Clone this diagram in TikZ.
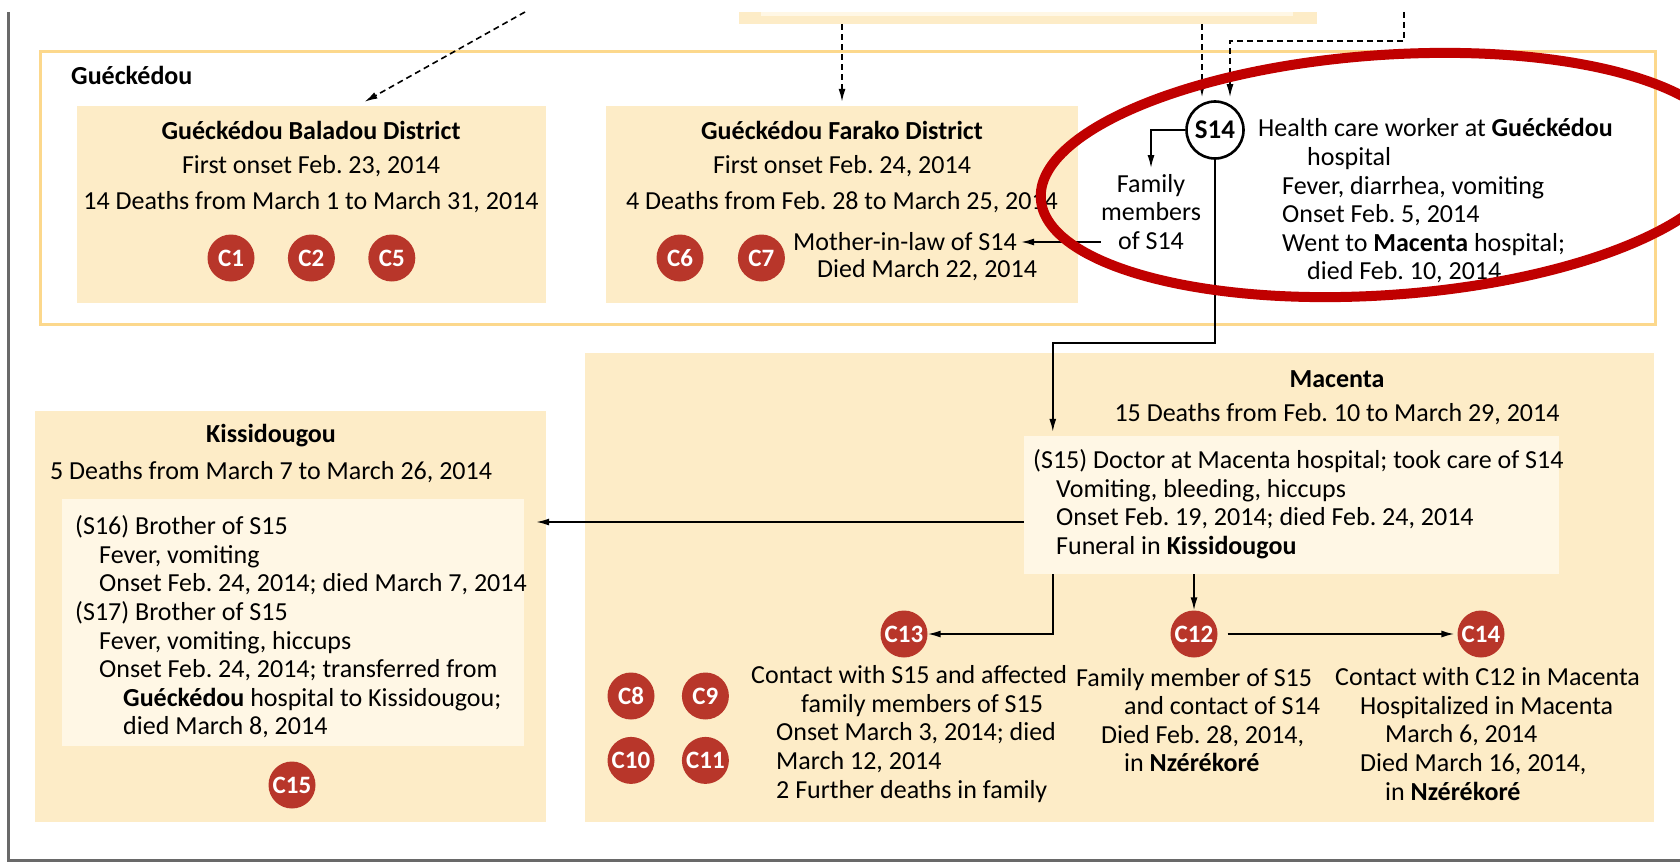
\documentclass[tikz,border=0pt]{standalone}
\usepackage{fontspec}
\setmainfont{Carlito}
\usetikzlibrary{positioning,fit,arrows.meta,shapes.geometric}

\definecolor{boxfill}{RGB}{253,236,199}
\definecolor{innerfill}{RGB}{255,247,229}
\definecolor{frameorange}{RGB}{252,216,140}
\definecolor{casered}{RGB}{184,54,42}
\definecolor{markred}{RGB}{192,0,0}
\definecolor{framegray}{RGB}{105,105,105}

\begin{document}
\frenchspacing
\begin{tikzpicture}[
    x=1pt, y=-1pt,
    every node/.style={font=\fontsize{26}{28.6}\selectfont, inner sep=0pt},
    >={Latex[length=13pt,width=7pt]},
    region/.style={draw=frameorange, line width=3pt, fill=white, inner sep=0pt},
    district/.style={fill=boxfill, inner sep=0pt},
    detail/.style={fill=innerfill, inner sep=0pt},
    heading/.style={font=\fontsize{26}{28.6}\selectfont\bfseries},
    case/.style={circle, fill=casered, text=white, minimum size=47pt, inner sep=0pt, font=\fontsize{25}{25}\selectfont\bfseries},
    note/.style={align=left, anchor=west},
    link/.style={->, line width=1.6pt},
    source/.style={->, line width=1.6pt, dash pattern=on 6pt off 4pt}
    ]

   \useasboundingbox (0,0) rectangle (1680,864);
   \draw[framegray, line width=3pt] (8,12) -- (8,860) -- (1700,860);

   % box above, cut by the frame
   \node(topbox) [district, fit={(739,12) (1317,24)}] {};
   \node(topinner) [detail, fit={(761,12) (1293,16)}] {};

   % Gueckedou
   \node(gueck) [region, fit={(40,52) (1655,324)}] {};
   \node(gueckLabel) [heading, anchor=west] at (71,75) {Guéckédou};

   \node(balbox) [district, fit={(77,106) (546,303)}] {};
   \node(balTitle) [heading] at (311,130) {Guéckédou Baladou District};
   \node(balOnset) at (311,166) {First onset Feb. 23, 2014};
   \node(balDeaths) at (311,202) {14 Deaths from March 1 to March 31, 2014};
   \node(c1) [case] at (231,258) {C1};
   \node(c2) [case, right=33pt of c1] {C2};
   \node(c5) [case, right=33pt of c2] {C5};

   \node(farbox) [district, fit={(606,106) (1078,303)}] {};
   \node(farTitle) [heading] at (842,130) {Guéckédou Farako District};
   \node(farOnset) at (842,166) {First onset Feb. 24, 2014};
   \node(farDeaths) at (842,202) {4 Deaths from Feb. 28 to March 25, 2014};
   \node(c6) [case] at (680,258) {C6};
   \node(c7) [case, right=34pt of c6] {C7};
   \node(mil) [note] at (793,242) {Mother-in-law of S14};
   \node(milDied) [note] at (817,270) {Died March 22, 2014};

   \node(s14) [circle, draw, line width=2.6pt, fill=white, minimum size=57pt, font=\fontsize{27}{27}\selectfont\bfseries] at (1215,130) {S14};
   \node(famS14) [align=center] at (1151,212) {Family\\members\\of S14};
   \node(s14text) [note] at (1258,201) {Health care worker at \textbf{Guéckédou}\\
      \hspace*{49pt}hospital\\
      \hspace*{24pt}Fever, diarrhea, vomiting\\
      \hspace*{24pt}Onset Feb. 5, 2014\\
      \hspace*{24pt}Went to \textbf{Macenta} hospital;\\
      \hspace*{49pt}died Feb. 10, 2014};

   % Kissidougou
   \node(kisbox) [district, fit={(35,411) (546,822)}] {};
   \node(kisTitle) [heading] at (271,436) {Kissidougou};
   \node(kisDeaths) at (271,472) {5 Deaths from March 7 to March 26, 2014};
   \node(kisinner) [detail, fit={(62,499) (524,746)}] {};
   \node(kistext) [note] at (75,627) {(S16) Brother of S15\\
      \hspace*{24pt}Fever, vomiting\\
      \hspace*{24pt}Onset Feb. 24, 2014; died March 7, 2014\\
      (S17) Brother of S15\\
      \hspace*{24pt}Fever, vomiting, hiccups\\
      \hspace*{24pt}Onset Feb. 24, 2014; transferred from\\
      \hspace*{48pt}\textbf{Guéckédou} hospital to Kissidougou;\\
      \hspace*{48pt}died March 8, 2014};
   \node(c15) [case] at (292,785) {C15};

   % Macenta
   \node(macbox) [district, fit={(585,353) (1654,822)}] {};
   \node(macTitle) [heading] at (1337,379) {Macenta};
   \node(macDeaths) at (1337,414) {15 Deaths from Feb. 10 to March 29, 2014};
   \node(s15box) [detail, fit={(1024,436) (1559,574)}] {};
   \node(s15text) [note] at (1033,504) {(S15) Doctor at Macenta hospital; took care of S14\\
      \hspace*{23pt}Vomiting, bleeding, hiccups\\
      \hspace*{23pt}Onset Feb. 19, 2014; died Feb. 24, 2014\\
      \hspace*{23pt}Funeral in \textbf{Kissidougou}};

   \node(c13) [case] at (904,634) {C13};
   \node(c12) [case] at (1194,634) {C12};
   \node(c14) [case] at (1481,634) {C14};
   \node(c8) [case] at (631,696) {C8};
   \node(c9) [case, right=27pt of c8] {C9};
   \node(c10) [case, below=17pt of c8] {C10};
   \node(c11) [case, below=17pt of c9] {C11};

   \node(c13text) [note] at (751,734) {Contact with S15 and affected\\
      \hspace*{50pt}family members of S15\\
      \hspace*{25pt}Onset March 3, 2014; died\\
      \hspace*{25pt}March 12, 2014\\
      \hspace*{25pt}2 Further deaths in family};
   \node(c12text) [note] at (1076,720) {Family member of S15\\
      \hspace*{48pt}and contact of S14\\
      \hspace*{25pt}Died Feb. 28, 2014,\\
      \hspace*{48pt}in \textbf{Nzérékoré}};
   \node(c14text) [note] at (1335,734) {Contact with C12 in Macenta\\
      \hspace*{25pt}Hospitalized in Macenta\\
      \hspace*{50pt}March 6, 2014\\
      \hspace*{25pt}Died March 16, 2014,\\
      \hspace*{50pt}in \textbf{Nzérékoré}};

   % sources from above
   \coordinate(fromA) at (525,12);
   \coordinate(fromC) at (1404,12);
   \coordinate(balIn) at ([xshift=53pt,yshift=4pt]balbox.north);
   \coordinate(s14inA) at ([xshift=-13pt,yshift=3pt]s14.north);
   \coordinate(s14inB) at ([xshift=15pt,yshift=3pt]s14.north);
   \draw[source] (fromA) -- (balIn);
   \draw[source] (topbox.south -| farbox.north) -- ([yshift=4pt]farbox.north);
   \draw[source] (topbox.south -| s14inA) -- (s14inA);
   \draw[source] (fromC) -- ++(0,29) -| (s14inB);

   % spread
   \coordinate(s15top) at ([xshift=29pt]s15box.north west);
   \draw[link] (s14.west) -| ([yshift=6pt]famS14.north);
   \draw[link] (mil.east -| famS14.west) -- ([xshift=4pt]mil.east);
   \draw[link] (s14.south) -- ++(0,183) -| ([yshift=4pt]s15top);
   \draw[link] ([yshift=-17pt]s15box.west) -- ([xshift=12pt,yshift=-17pt]s15box.west -| kisinner.east);
   \draw[link] (s15box.south -| s15top) |- (c13);
   \draw[link] (s15box.south -| c12) -- (c12);
   \draw[link, shorten <=10pt, shorten >=3pt] (c12) -- (c14);

   \node(focus) [ellipse, draw=markred, line width=10pt, minimum width=690pt, minimum height=240pt, rotate=4] at (1385,175) {};

\end{tikzpicture}
\end{document}
